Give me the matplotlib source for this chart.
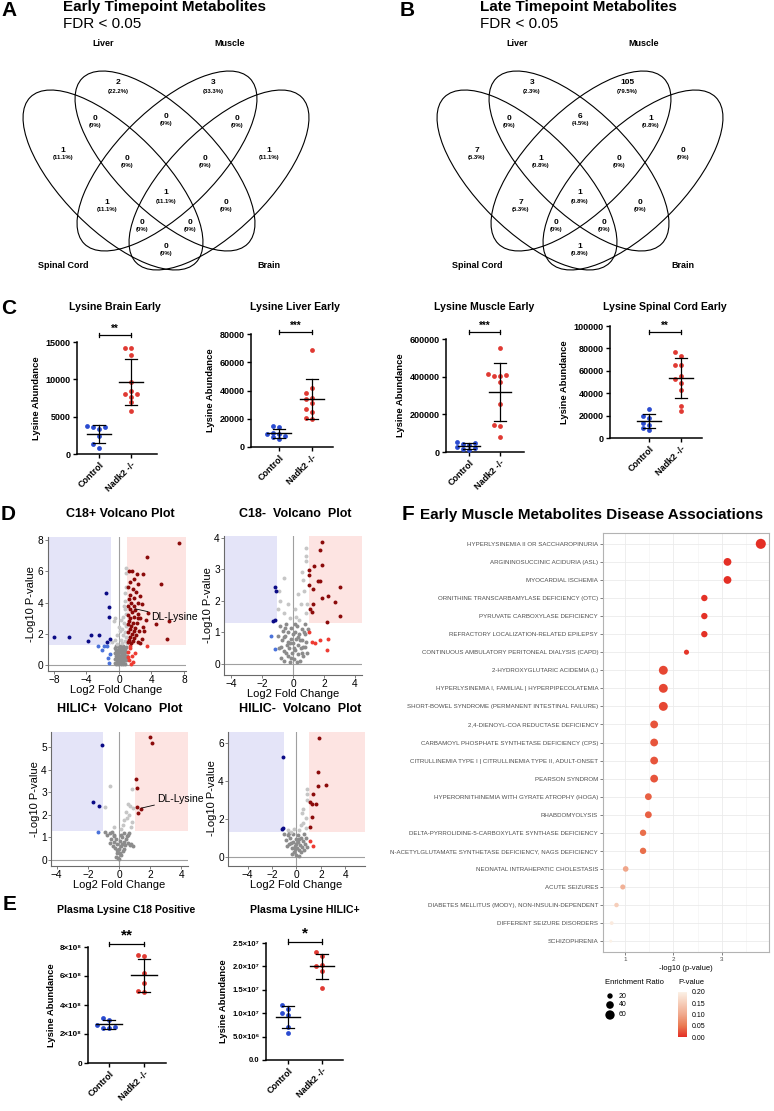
import numpy as np
import matplotlib
matplotlib.use("Agg")
import matplotlib.pyplot as plt
from matplotlib.patches import Ellipse, Rectangle
from matplotlib.colors import LinearSegmentedColormap, Normalize
from matplotlib.cm import ScalarMappable

W, H = 774, 1111
plt.rcParams["font.family"] = ["Liberation Sans", "DejaVu Sans"]

# ---------------- data ----------------
set_names = ["Liver", "Muscle", "Spinal Cord", "Brain"]
# regions: L, M, S&L, L&M, M&B, S, B, S&L&M, L&M&B, all, S&M, L&B, S&L&B, S&M&B, S&B
early_counts = [2, 3, 0, 0, 0, 1, 1, 0, 0, 1, 1, 0, 0, 0, 0]
late_counts = [3, 105, 0, 6, 1, 7, 0, 1, 0, 1, 7, 0, 0, 0, 1]

groups = ["Control", "Nadk2 -/-"]
brain_ctrl = [3700, 3650, 3600, 3300, 2400, 1300, 800]
brain_mut = [14200, 14200, 13220, 9680, 7990, 7990, 8480, 7680, 7010, 5770]
liver_ctrl = [15200, 14000, 10000, 9500, 9000, 7500, 6800, 6000]
liver_mut = [69000, 42000, 38000, 35000, 34000, 31000, 27000, 25000, 20500, 20000]
muscle_ctrl = [55000, 50000, 45000, 35000, 25000, 20000, 15000, 10000]
muscle_mut = [550000, 413000, 405000, 402000, 408000, 372000, 257000, 142000, 137000, 80000]
spinal_ctrl = [26000, 20000, 18000, 13500, 12000, 9000, 7500]
spinal_mut = [77000, 73000, 65500, 65000, 55000, 53000, 49500, 43000, 29000, 24500]
plasma_c18_ctrl = [313e6, 298e6, 265e6, 245e6, 243e6, 240e6]
plasma_c18_mut = [745e6, 735e6, 620e6, 555e6, 495e6, 490e6]
plasma_hilic_ctrl = [1.18e7, 1.1e7, 1.0e7, 9.6e6, 7.0e6, 5.8e6]
plasma_hilic_mut = [2.3e7, 2.22e7, 2.03e7, 2.0e7, 1.91e7, 1.53e7]

# volcano points: (log2 fold change, -log10 p)
c18p_pts = [
    (-8.0, 1.8), (-6.1, 1.8), (-3.8, 1.55), (-3.4, 1.9), (-2.5, 1.9), (-1.56, 4.6), (-1.23, 3.7),
    (-1.25, 3.1), (-1.15, 1.7), (-1.5, 1.45), (-2.6, 1.22), (-1.9, 1.25), (-1.5, 1.2), (-2.05, 0.95),
    (-1.15, 0.7), (-1.3, 0.45), (-1.2, 0.15),
    (0.9, 6.2), (0.85, 5.9), (0.9, 5.0), (0.8, 4.6), (0.7, 4.1), (0.6, 3.8), (0.75, 3.6), (0.9, 3.3),
    (0.5, 3.1), (-0.45, 3.0), (-0.65, 2.8), (0.3, 2.9), (0.65, 2.7), (0.85, 2.5), (-0.05, 2.45),
    (0.4, 2.3), (0.15, 2.2), (0.75, 2.1), (-0.25, 1.95), (0.55, 1.9), (0.9, 1.8), (-0.45, 1.6),
    (0.2, 1.6), (0.7, 1.55), (-0.8, 1.45), (0.35, 1.4), (0.95, 1.4), (-0.3, 1.35),
    (-0.55, 1.1), (-0.5, 0.4), (-0.45, 0.8), (-0.4, 0.1), (-0.35, 1.25), (-0.3, 0.6), (-0.25, 0.3),
    (-0.2, 0.95), (-0.15, 0.05), (-0.1, 0.7), (-0.05, 1.2), (0.0, 0.45), (0.05, 0.15), (0.1, 0.85),
    (0.15, 1.15), (0.2, 0.35), (0.25, 0.6), (0.3, 0.05), (0.35, 1.0), (0.4, 0.5), (0.45, 0.2),
    (0.5, 0.9), (0.55, 1.25), (0.6, 0.4), (0.65, 0.7), (0.7, 0.1), (0.75, 1.05), (0.8, 0.55),
    (0.85, 0.3), (0.9, 0.85), (-0.5, 0.15), (-0.35, 0.95), (-0.2, 0.5), (-0.05, 0.3), (0.1, 0.6),
    (0.25, 0.95), (0.4, 0.75), (0.55, 0.1), (0.7, 0.45), (0.85, 1.15), (-0.4, 0.55), (-0.15, 0.75),
    (0.05, 1.0), (0.3, 0.25), (0.5, 0.65), (0.75, 0.35), (0.95, 0.6), (-0.3, 0.2), (0.0, 0.85),
    (0.2, 1.2), (0.45, 1.1), (0.65, 0.95),
    (1.2, 6.0), (1.6, 6.0), (2.2, 5.8), (1.9, 5.5), (1.3, 5.3), (2.4, 5.2), (1.1, 5.0), (1.7, 4.9),
    (2.1, 4.7), (1.4, 4.5), (2.6, 4.4), (1.9, 4.3), (1.2, 4.2), (1.5, 4.0), (2.3, 4.0), (1.1, 3.8),
    (1.8, 3.8), (2.8, 3.9), (1.3, 3.6), (2.0, 3.5), (1.6, 3.4), (2.4, 3.3), (1.1, 3.2), (1.9, 3.1),
    (1.4, 3.0), (2.6, 3.0), (1.2, 2.8), (1.7, 2.7), (2.2, 2.7), (1.05, 2.6), (1.5, 2.5), (2.0, 2.4),
    (1.3, 2.3), (1.8, 2.2), (2.5, 2.2), (1.1, 2.1), (1.6, 2.0), (2.1, 1.95), (1.4, 1.8), (1.9, 1.75),
    (1.2, 1.6), (1.7, 1.55), (2.3, 1.5), (1.05, 1.45), (1.5, 1.4), (2.8, 1.7), (3.1, 2.2), (3.3, 2.9),
    (3.6, 3.35), (2.9, 5.8), (3.5, 6.9), (5.2, 5.2), (7.4, 7.8), (4.6, 2.6), (6.1, 2.85), (5.9, 1.65),
    (3.0, 2.45), (2.6, 1.4), (2.3, 3.0),
    (1.4, 1.1), (1.1, 0.85), (1.6, 0.6), (1.2, 0.3), (1.7, 0.2), (2.0, 0.75), (3.4, 1.22), (1.3, 1.2),
    (1.05, 0.5), (1.45, 0.05),
]
c18n_pts = [
    (-1.16, 2.44), (-1.1, 2.3), (-1.16, 1.38), (-1.3, 1.36), (-1.44, 0.87), (-1.16, 0.48),
    (0.84, 3.67), (0.84, 3.43), (0.84, 3.25), (-0.58, 2.72), (0.67, 2.67), (-0.9, 2.3), (-0.85, 2.0),
    (-0.95, 1.75), (-0.6, 1.6), (0.3, 2.2), (0.5, 1.9), (0.7, 2.3), (0.2, 1.5), (0.85, 1.6),
    (-0.3, 1.9), (0.6, 2.9), (0.4, 1.4), (-0.2, 1.45), (0.9, 1.9), (0.1, 1.75),
    (-0.95, 0.9), (-0.9, 0.5), (-0.85, 1.2), (-0.8, 0.2), (-0.7, 0.75), (-0.65, 1.05), (-0.6, 0.4),
    (-0.55, 0.1), (-0.5, 0.9), (-0.45, 1.25), (-0.4, 0.6), (-0.35, 0.25), (-0.3, 1.0), (-0.25, 0.5),
    (-0.2, 0.05), (-0.15, 0.8), (-0.1, 1.15), (-0.05, 0.35), (0.0, 0.65), (0.05, 0.15), (0.1, 1.0),
    (0.15, 0.45), (0.2, 0.8), (0.25, 1.2), (0.3, 0.3), (0.35, 0.6), (0.4, 0.95), (0.45, 0.1),
    (0.5, 0.5), (0.55, 1.1), (0.6, 0.75), (0.65, 0.25), (0.7, 1.0), (0.75, 0.55), (0.8, 1.25),
    (0.85, 0.7), (0.9, 0.35), (-0.75, 0.55), (-0.45, 0.35), (-0.2, 0.65), (0.05, 0.5), (0.3, 0.85),
    (0.55, 0.35), (0.8, 0.95), (-0.6, 0.85), (-0.3, 0.7), (0.0, 0.95), (0.25, 0.05), (0.45, 0.75),
    (0.65, 0.55), (-0.1, 0.2), (0.15, 1.25), (-0.5, 1.15), (0.95, 1.1),
    (1.85, 3.85), (1.74, 3.6), (1.38, 3.11), (1.89, 3.12), (1.02, 2.96), (1.74, 2.63), (1.6, 2.63),
    (1.27, 2.37), (3.03, 2.45), (1.02, 2.5), (1.85, 2.1), (2.26, 2.15), (2.7, 1.97), (1.1, 1.74),
    (1.2, 1.66), (3.03, 1.53), (2.2, 1.33), (1.05, 2.8), (1.3, 1.9),
    (1.02, 1.0), (1.2, 0.7), (1.45, 0.65), (1.75, 0.75), (2.25, 0.78), (2.2, 0.45),
]
hilicp_pts = [
    (-1.1, 5.09), (-1.64, 2.57), (-1.28, 2.37), (-1.36, 1.22),
    (-0.57, 3.29), (0.85, 3.15), (-0.9, 2.34), (0.6, 2.5), (0.7, 2.4), (0.9, 2.3), (0.45, 2.12),
    (0.53, 1.85), (0.77, 1.48), (0.35, 1.75), (0.62, 2.0), (0.25, 1.55), (-0.3, 1.45), (0.85, 1.7),
    (0.1, 1.35),
    (-0.9, 1.25), (-0.75, 1.1), (-0.6, 1.2), (-0.5, 0.95), (-0.45, 1.25), (-0.35, 0.8), (-0.3, 1.1),
    (-0.25, 0.55), (-0.2, 0.95), (-0.15, 0.3), (-0.1, 0.7), (-0.05, 0.1), (0.0, 0.5), (0.05, 0.85),
    (0.1, 0.2), (0.15, 0.6), (0.2, 1.0), (0.25, 0.4), (0.3, 0.8), (0.35, 1.2), (0.4, 0.65),
    (0.5, 1.05), (0.55, 0.75), (0.65, 1.2), (0.8, 0.7), (0.9, 0.62), (0.7, 0.66), (-0.4, 0.6),
    (-0.1, 0.45), (0.05, 0.3), (0.2, 0.7), (-0.2, 0.15), (0.1, 1.1), (0.45, 0.95), (0.0, 0.05),
    (-0.55, 0.75), (0.3, 0.5), (0.6, 1.1), (-0.35, 1.05),
    (2.02, 5.45), (2.13, 5.19), (1.06, 3.6), (1.13, 3.19), (1.13, 2.34), (1.38, 2.25), (1.23, 2.1),
]
hilicn_pts = [
    (-1.13, 5.25), (-1.1, 1.5), (-1.15, 1.45),
    (0.83, 3.6), (0.9, 3.3), (0.85, 3.0), (0.42, 2.3), (0.78, 2.04), (0.56, 1.8), (-0.48, 1.33),
    (-0.67, 1.4), (0.4, 1.7), (0.8, 1.5), (0.2, 1.4), (-0.2, 1.45), (0.55, 2.55),
    (-1.0, 1.2), (-0.85, 0.9), (-0.7, 1.15), (-0.6, 0.7), (-0.5, 1.0), (-0.4, 0.45), (-0.3, 0.8),
    (-0.25, 1.2), (-0.2, 0.25), (-0.1, 0.6), (-0.05, 0.95), (0.0, 0.1), (0.05, 0.45), (0.1, 0.8),
    (0.15, 1.15), (0.2, 0.35), (0.3, 0.65), (0.35, 1.0), (0.45, 0.5), (0.5, 0.85), (0.6, 1.2),
    (0.7, 0.7), (0.8, 1.0), (0.9, 0.55), (-0.35, 0.15), (-0.15, 0.4), (0.25, 0.05), (0.4, 0.25),
    (-0.8, 0.6), (0.65, 0.35), (-0.45, 0.75), (0.0, 0.7), (0.2, 0.95), (-0.6, 1.25),
    (1.87, 6.25), (1.79, 4.49), (2.42, 3.79), (1.75, 3.73), (1.33, 3.3), (1.09, 2.9), (1.3, 2.8),
    (1.6, 2.8), (1.29, 2.1), (1.1, 1.6),
    (1.15, 0.82), (1.35, 0.56),
]

diseases = [
    "HYPERLYSINEMIA II OR SACCHAROPINURIA", "ARGININOSUCCINIC ACIDURIA (ASL)", "MYOCARDIAL ISCHEMIA",
    "ORNITHINE TRANSCARBAMYLASE DEFICIENCY (OTC)", "PYRUVATE CARBOXYLASE DEFICIENCY",
    "REFRACTORY LOCALIZATION-RELATED EPILEPSY", "CONTINUOUS AMBULATORY PERITONEAL DIALYSIS (CAPD)",
    "2-HYDROXYGLUTARIC ACIDEMIA (L)", "HYPERLYSINEMIA I, FAMILIAL | HYPERPIPECOLATEMIA",
    "SHORT-BOWEL SYNDROME (PERMANENT INTESTINAL FAILURE)", "2,4-DIENOYL-COA REDUCTASE DEFICIENCY",
    "CARBAMOYL PHOSPHATE SYNTHETASE DEFICIENCY (CPS)",
    "CITRULLINEMIA TYPE I | CITRULLINEMIA TYPE II, ADULT-ONSET", "PEARSON SYNDROM",
    "HYPERORNITHINEMIA WITH GYRATE ATROPHY (HOGA)", "RHABDOMYOLYSIS",
    "DELTA-PYRROLIDINE-5-CARBOXYLATE SYNTHASE DEFICIENCY",
    "N-ACETYLGLUTAMATE SYNTHETASE DEFICIENCY, NAGS DEFICIENCY", "NEONATAL INTRAHEPATIC CHOLESTASIS",
    "ACUTE SEIZURES", "DIABETES MELLITUS (MODY), NON-INSULIN-DEPENDENT", "DIFFERENT SEIZURE DISORDERS",
    "SCHIZOPHRENIA",
]
dis_logp = [3.81, 3.12, 3.12, 2.64, 2.64, 2.64, 2.27, 1.79, 1.79, 1.79, 1.60, 1.60, 1.60, 1.60,
            1.48, 1.48, 1.37, 1.37, 1.01, 0.95, 0.82, 0.72, 0.70]
dis_ratio = [70, 42, 42, 28, 28, 28, 18, 55, 55, 55, 42, 42, 42, 42, 32, 32, 28, 28, 22, 18, 14, 10, 6]

# ---------------- helpers ----------------
fig = plt.figure(figsize=(W / 100, H / 100), dpi=100)


def px_axes(left, top, width, height):
    return fig.add_axes([left / W, 1 - (top + height) / H, width / W, height / H])


def ftext(x, y, s, **kw):
    fig.text(x / W, 1 - y / H, s, **kw)


BLUE = "#2A4BD0"
RED = "#E03A33"

# ---------------- A / B venn ----------------
venn_shapes = [(-53, 19, 45), (-1, 0, 45), (1, 0, -45), (53, 19, -45)]
region_off = [(-48, -78), (47, -78), (-71, -43), (0, -45), (71, -43), (-103, -11), (103, -11),
              (-39, -3), (39, -3), (0, 32), (-59, 41), (60, 41), (-24, 61), (24, 61), (0, 85)]
label_off = [(-63, -118), (64, -118), (-103, 104), (103, 104)]


def draw_venn(left, cx, counts):
    ax = px_axes(left, 0, 387, 300)
    ax.set_xlim(0, 387)
    ax.set_ylim(300, 0)
    ax.axis("off")
    cy = 161
    for dx, dy, ang in venn_shapes:
        ax.add_patch(Ellipse((cx + dx, cy + dy), 234, 100, angle=ang, fill=False, lw=0.8, ec="black"))
    total = sum(counts)
    for (dx, dy), n in zip(region_off, counts):
        pct = f"({n / total * 100:.1f}%)" if n else "(0%)"
        ax.text(cx + dx, cy + dy, str(n), ha="center", va="center", fontsize=6, fontweight="bold")
        ax.text(cx + dx, cy + dy + 8, pct, ha="center", va="center", fontsize=4.3, fontweight="bold")
    for name, (dx, dy) in zip(set_names, label_off):
        ax.text(cx + dx, cy + dy, name, ha="center", va="center", fontsize=6.5, fontweight="bold")


draw_venn(0, 166, early_counts)
draw_venn(387, 193, late_counts)
ftext(1, 11, "A", fontsize=15, fontweight="bold", va="center")
ftext(400, 11, "B", fontsize=15, fontweight="bold", va="center")
ftext(63, 7, "Early Timepoint Metabolites", fontsize=11, fontweight="bold", va="center")
ftext(63, 24, "FDR < 0.05", fontsize=11, va="center")
ftext(480, 7, "Late Timepoint Metabolites", fontsize=11, fontweight="bold", va="center")
ftext(480, 24, "FDR < 0.05", fontsize=11, va="center")


# ---------------- C / E dot plots ----------------
def spread(vals, h_px, ymax, unit, step_px=6, tol_px=4.5):
    vals = np.asarray(vals, float)
    upp = ymax / h_px
    offs = np.zeros(len(vals))
    placed = []
    for i in np.argsort(vals):
        for c in [0, -1, 1, -2, 2, -3, 3]:
            if all(not (abs(vals[i] - vals[j]) < tol_px * upp and offs[j] == c) for j in placed):
                offs[i] = c
                break
        placed.append(i)
    return offs * step_px / unit


def dot_panel(box, ctrl_px, mut_px, ymax, yticks, ylabels, ctrl, mut, title, title_y,
              sig_y, stars, star_fs, tick_fs=6.5):
    left, top, right, bottom = box
    ax = px_axes(left, top, right - left, bottom - top)
    unit = mut_px - ctrl_px
    ax.set_xlim((left - ctrl_px) / unit, (right - ctrl_px) / unit)
    ax.set_ylim(0, ymax)
    for i, (vals, col) in enumerate([(ctrl, BLUE), (mut, RED)]):
        offs = spread(vals, bottom - top, ymax, unit)
        ax.scatter(i + offs, vals, s=12, color=col, lw=0, zorder=3, clip_on=False)
        m, sd = np.mean(vals), np.std(vals, ddof=1)
        ax.plot([i - 0.36, i + 0.36], [m, m], color="black", lw=1.0, zorder=4, clip_on=False)
        ax.plot([i, i], [m - sd, m + sd], color="black", lw=0.9, zorder=4, clip_on=False)
        for yy in (m - sd, m + sd):
            ax.plot([i - 0.18, i + 0.18], [yy, yy], color="black", lw=0.9, zorder=4, clip_on=False)
    cap = ymax * 0.018
    ax.plot([0, 1], [sig_y, sig_y], color="black", lw=0.9, clip_on=False)
    for xx in (0, 1):
        ax.plot([xx, xx], [sig_y - cap, sig_y + cap], color="black", lw=0.9, clip_on=False)
    ax.text(0.5, sig_y + cap * 0.4, stars, ha="center", va="bottom", fontsize=star_fs,
            fontweight="bold", clip_on=False)
    for s in ("top", "right"):
        ax.spines[s].set_visible(False)
    for s in ("left", "bottom"):
        ax.spines[s].set_linewidth(1.1)
    ax.set_yticks(yticks)
    ax.set_yticklabels(ylabels, fontsize=tick_fs, fontweight="bold")
    ax.set_xticks([0, 1])
    ax.set_xticklabels(groups, fontsize=6.5, fontweight="bold", rotation=45, ha="right",
                       rotation_mode="anchor")
    ax.tick_params(length=3, width=1.0, pad=1.5)
    ax.set_ylabel("Lysine Abundance", fontsize=6.8, fontweight="bold", labelpad=3)
    ftext((ctrl_px + mut_px) / 2, title_y, title, fontsize=7.6, fontweight="bold",
          ha="center", va="center")
    return ax


dot_panel((77, 342, 157, 454), 99, 131, 15000, [0, 5000, 10000, 15000],
          ["0", "5000", "10000", "15000"], brain_ctrl, brain_mut, "Lysine Brain Early", 307,
          16000, "**", 7)
dot_panel((251, 334, 333, 447), 279, 312, 80000, [0, 20000, 40000, 60000, 80000],
          ["0", "20000", "40000", "60000", "80000"], liver_ctrl, liver_mut, "Lysine Liver Early",
          307, 81500, "***", 7)
dot_panel((446, 339, 524, 452), 469, 500, 600000, [0, 200000, 400000, 600000],
          ["0", "200000", "400000", "600000"], muscle_ctrl, muscle_mut, "Lysine Muscle Early",
          307, 637000, "***", 7)
dot_panel((610, 326, 702, 438), 649, 681, 100000, [0, 20000, 40000, 60000, 80000, 100000],
          ["0", "20000", "40000", "60000", "80000", "100000"], spinal_ctrl, spinal_mut,
          "Lysine Spinal Cord Early", 307, 94600, "**", 7)
dot_panel((88, 947, 166, 1063), 109, 144, 8e8, [0, 2e8, 4e8, 6e8, 8e8],
          ["0", "2×10⁸", "4×10⁸", "6×10⁸", "8×10⁸"], plasma_c18_ctrl, plasma_c18_mut,
          "Plasma Lysine C18 Positive", 910, 823e6, "**", 11, tick_fs=5.8)
dot_panel((266, 943, 343, 1060), 288, 322, 2.5e7, [0, 5e6, 1e7, 1.5e7, 2e7, 2.5e7],
          ["0.0", "5.0×10⁶", "1.0×10⁷", "1.5×10⁷", "2.0×10⁷", "2.5×10⁷"], plasma_hilic_ctrl,
          plasma_hilic_mut, "Plasma Lysine HILIC+", 910, 2.53e7, "*", 11, tick_fs=5.5)
ftext(1, 309, "C", fontsize=15, fontweight="bold", va="center")
ftext(3, 905, "E", fontsize=15, fontweight="bold", va="center")

# ---------------- D volcano plots ----------------
SIG = 1.301


def volcano(box, xlim, ylim, xticks, yticks, pts, title, title_xy, lysine=None):
    left, top, right, bottom = box
    ax = px_axes(left, top, right - left, bottom - top)
    ax.set_xlim(xlim)
    ax.set_ylim(ylim)
    ax.add_patch(Rectangle((xlim[0], SIG), -1 - xlim[0], ylim[1] - SIG, color="#E4E4F8", lw=0, zorder=0))
    ax.add_patch(Rectangle((1, SIG), xlim[1] - 1, ylim[1] - SIG, color="#FDE4E2", lw=0, zorder=0))
    ax.axvline(0, color="#A0A0A0", lw=0.8, zorder=1)
    ax.axhline(0, color="#A0A0A0", lw=0.8, zorder=1)
    fc = np.array([p[0] for p in pts])
    lp = np.array([p[1] for p in pts])
    sig = lp > SIG
    cats = [
        ((np.abs(fc) <= 1) & ~sig, "#8C8C8C"),
        ((np.abs(fc) <= 1) & sig, "#C6C6C6"),
        ((fc < -1) & ~sig, "#4A72DA"),
        ((fc > 1) & ~sig, "#EE3B32"),
        ((fc < -1) & sig, "#0A0A86"),
        ((fc > 1) & sig, "#8B0A0A"),
    ]
    for mask, col in cats:
        ax.scatter(fc[mask], lp[mask], s=8, color=col, lw=0, zorder=2)
    if lysine is not None:
        xy, txt_xy = lysine
        ax.annotate("DL-Lysine", xy=xy, xytext=txt_xy, fontsize=7.5, va="center", ha="left",
                    arrowprops=dict(arrowstyle="-", color="black", lw=0.6, shrinkA=0, shrinkB=0),
                    annotation_clip=False, zorder=5)
    for s in ("top", "right"):
        ax.spines[s].set_visible(False)
    for s in ("left", "bottom"):
        ax.spines[s].set_color("#6A6A6A")
        ax.spines[s].set_linewidth(0.8)
    ax.set_xticks(xticks)
    ax.set_yticks(yticks)
    ax.tick_params(labelsize=7.3, length=2, width=0.6, color="#6A6A6A", pad=1)
    ax.set_xlabel("Log2 Fold Change", fontsize=8, labelpad=0)
    ax.set_ylabel("-Log10 P-value", fontsize=8, labelpad=1)
    ftext(title_xy[0], title_xy[1], title, fontsize=9, fontweight="bold", ha="center", va="center")
    return ax


volcano((47.5, 537, 185.6, 671), (-8.8, 8.2), (-0.38, 8.2), [-8, -4, 0, 4, 8], [0, 2, 4, 6, 8],
        c18p_pts, "C18+ Volcano Plot", (120, 514), lysine=((2.0, 3.6), (3.9, 3.05)))
volcano((224, 536, 362, 675), (-4.45, 4.45), (-0.35, 4.05), [-4, -2, 0, 2, 4], [0, 1, 2, 3, 4],
        c18n_pts, "C18-  Volcano  Plot", (295, 514))
volcano((51, 732, 187.6, 865.6), (-4.36, 4.4), (-0.25, 5.67), [-4, -2, 0, 2, 4], [0, 1, 2, 3, 4, 5],
        hilicp_pts, "HILIC+  Volcano  Plot", (120, 709), lysine=((1.45, 2.3), (2.45, 2.7)))
volcano((228, 731.6, 364.8, 865.5), (-5.6, 5.6), (-0.45, 6.6), [-4, -2, 0, 2, 4], [0, 2, 4, 6],
        hilicn_pts, "HILIC-  Volcano  Plot", (300, 709))
ftext(1, 514, "D", fontsize=15, fontweight="bold", va="center")

# ---------------- F disease associations ----------------
pcmap = LinearSegmentedColormap.from_list(
    "pv", ["#E42F25", "#EA7A52", "#F0A88C", "#F6CDB9", "#FBF1E6"])
pnorm = Normalize(0, 0.2)
pvals = 10 ** (-np.array(dis_logp))

axf = px_axes(603, 533, 166, 419)
axf.set_xlim(0.54, 3.98)
axf.set_ylim(len(diseases) - 0.4, -0.6)
axf.set_xticks([1, 2, 3])
axf.set_xticks([1.5, 2.5, 3.5], minor=True)
axf.set_yticks(range(len(diseases)))
axf.set_yticklabels(diseases, fontsize=4.4, color="#4D4D4D")
axf.grid(which="major", color="#EBEBEB", lw=0.6)
axf.grid(which="minor", axis="x", color="#F2F2F2", lw=0.4)
axf.set_axisbelow(True)
axf.scatter(dis_logp, range(len(diseases)), s=0.75 * np.array(dis_ratio),
            c=pcmap(pnorm(pvals)), lw=0, zorder=3)
for s in axf.spines.values():
    s.set_color("#B3B3B3")
    s.set_linewidth(0.8)
axf.tick_params(which="major", length=2, width=0.5, color="#4D4D4D", pad=1.5)
axf.tick_params(which="minor", length=0)
axf.tick_params(axis="x", labelsize=4.5, labelcolor="#4D4D4D")
axf.set_xlabel("-log10 (p-value)", fontsize=5.5, labelpad=2)
ftext(402, 515, "F", fontsize=15, fontweight="bold", va="center")
ftext(420, 515, "Early Muscle Metabolites Disease Associations", fontsize=11, fontweight="bold",
      va="center")

# legend
axl = px_axes(600, 975, 70, 50)
axl.set_xlim(600, 670)
axl.set_ylim(1025, 975)
axl.axis("off")
leg_sizes = [20, 40, 60]
axl.scatter([610] * 3, [996, 1005, 1015], s=0.75 * np.array(leg_sizes), color="black", lw=0)
for yy, v in zip([996, 1005, 1015], leg_sizes):
    axl.text(619, yy, str(v), fontsize=5, va="center")
ftext(605, 983, "Enrichment Ratio", fontsize=5.5, va="center")
ftext(678, 983, "P-value", fontsize=5.5, va="center")
cax = px_axes(678, 992, 9, 45)
cb = fig.colorbar(ScalarMappable(pnorm, pcmap), cax=cax, ticks=[0, 0.05, 0.1, 0.15, 0.2])
cb.outline.set_visible(False)
cax.set_yticklabels(["0.00", "0.05", "0.10", "0.15", "0.20"])
cax.tick_params(labelsize=5, length=2, color="white", pad=1.5)

fig.savefig("out.png", dpi=100)
